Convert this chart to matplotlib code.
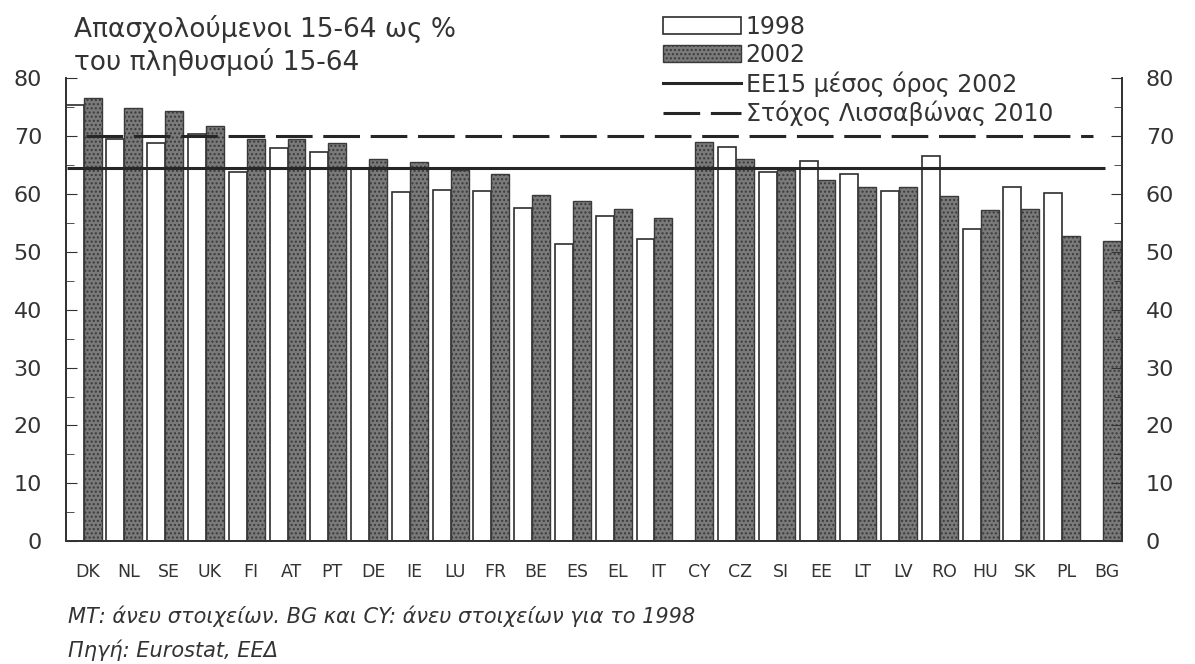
import numpy as np
import matplotlib
matplotlib.use("Agg")
import matplotlib.pyplot as plt
from matplotlib.patches import Patch
from matplotlib.lines import Line2D
from matplotlib.transforms import ScaledTranslation

plt.rcParams['font.family'] = ['DejaVu Sans']
plt.rcParams['hatch.color'] = '#4d4d4d'
plt.rcParams['hatch.linewidth'] = 1.0

countries = ['DK', 'NL', 'SE', 'UK', 'FI', 'AT', 'PT', 'DE', 'IE', 'LU', 'FR', 'BE', 'ES',
             'EL', 'IT', 'CY', 'CZ', 'SI', 'EE', 'LT', 'LV', 'RO', 'HU', 'SK', 'PL', 'BG']
y1998 = [75.4, 69.6, 68.9, 70.3, 63.8, 68.0, 67.2, 64.3, 60.4, 60.7, 60.5, 57.6, 51.4,
         56.2, 52.2, np.nan, 68.1, 63.8, 65.8, 63.5, 60.5, 66.6, 53.9, 61.3, 60.2, np.nan]
y2002 = [76.6, 74.8, 74.4, 71.8, 69.6, 69.5, 68.9, 66.0, 65.5, 64.1, 63.4, 59.9, 58.8,
         57.4, 55.8, 69.0, 66.0, 64.2, 62.4, 61.2, 61.3, 59.6, 57.2, 57.4, 52.7, 51.9]
eu15_avg = 64.5
lisbon_target = 70.0

txt = '#333333'
dash = (0, (12, 3.5))

fig = plt.figure(figsize=(11.95, 6.64), dpi=100)
ax = fig.add_axes([0.055, 0.185, 0.884, 0.697])

x = np.arange(len(countries))
w = 0.44
ax.bar(x - w / 2, y1998, w, color='white', edgecolor='#2e2e2e', linewidth=1.2)
ax.bar(x + w / 2, y2002, w, color='#7a7a7a', edgecolor='#3a3a3a', linewidth=1.0, hatch='....')

ax.hlines(eu15_avg, -0.4, 25.05, color='#262626', linewidth=2.2, zorder=3)
ax.hlines(lisbon_target, 0.05, 24.75, color='#262626', linewidth=2.2,
          linestyles=dash, zorder=3)

ax.set_xlim(-0.44, 25.47)
ax.set_ylim(0, 80)
ax.set_xticks(x)
ax.set_xticklabels(countries, fontsize=12.5, color=txt)
ax.tick_params(axis='x', length=0, pad=16)
for lbl in ax.get_xticklabels():
    lbl.set_transform(lbl.get_transform() + ScaledTranslation(0.04, 0, fig.dpi_scale_trans))

for a in (ax, ax.twinx()):
    a.set_ylim(0, 80)
    a.set_yticks(np.arange(0, 81, 10))
    a.set_yticks(np.arange(0, 81, 5), minor=True)
    a.tick_params(axis='y', which='both', direction='in', labelsize=16, labelcolor=txt,
                  color=txt, pad=17)
    a.tick_params(axis='y', which='major', length=8)
    a.tick_params(axis='y', which='minor', length=6)
    a.spines['top'].set_visible(False)
    for s in ['left', 'right', 'bottom']:
        a.spines[s].set_color(txt)
        a.spines[s].set_linewidth(1.3)

fig.text(0.062, 0.944, 'Απασχολούμενοι 15-64 ως %', fontsize=19, color=txt, va='baseline')
fig.text(0.062, 0.895, 'του πληθυσμού 15-64', fontsize=19, color=txt, va='baseline')

handles = [
    Patch(facecolor='white', edgecolor='#2e2e2e', linewidth=1.2),
    Patch(facecolor='#7a7a7a', edgecolor='#3a3a3a', hatch='....'),
    Line2D([], [], color='#262626', linewidth=2.2),
    Line2D([], [], color='#262626', linewidth=2.2, linestyle=dash),
]
labels = ['1998', '2002', 'ΕΕ15 μέσος όρος 2002', 'Στόχος Λισσαβώνας 2010']
fig.legend(handles, labels, loc='upper left', bbox_to_anchor=(663 / 1195, 0.978),
           frameon=False, fontsize=17, handlelength=3.3, handleheight=0.7,
           handletextpad=0.2, labelspacing=0.18, borderpad=0, borderaxespad=0,
           labelcolor=txt)

fig.text(0.057, 0.0617, 'ΜΤ: άνευ στοιχείων. BG και CY: άνευ στοιχείων για το 1998',
         fontsize=15, style='italic', color=txt, va='baseline')
fig.text(0.057, 0.0105, 'Πηγή: Eurostat, ΕΕΔ', fontsize=15, style='italic',
         color=txt, va='baseline')

fig.savefig('out.png', dpi=100)
